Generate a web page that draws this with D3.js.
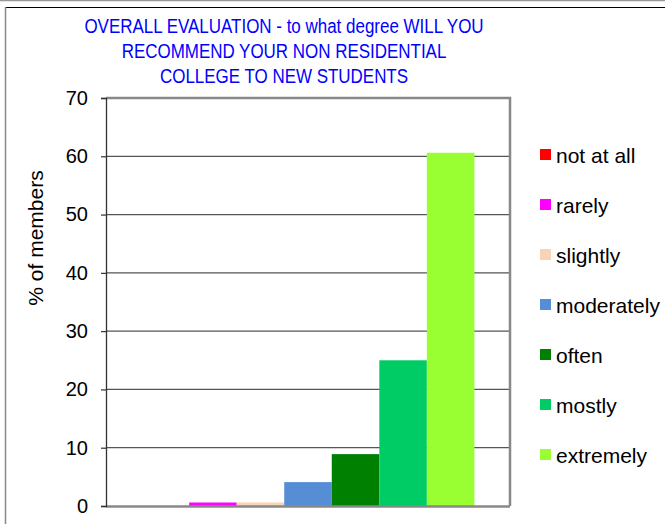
<!DOCTYPE html>
<html>
<head>
<meta charset="utf-8">
<script src="https://cdn.jsdelivr.net/npm/d3@7"></script>
<style>
  body { margin: 0; background: #fff; }
  svg { display: block; font-family: Arial, "Liberation Sans", sans-serif; }
</style>
</head>
<body>
<div id="chart"></div>
<script>
var titleLines = ["OVERALL EVALUATION - to what degree WILL YOU",
                  "RECOMMEND YOUR NON RESIDENTIAL",
                  "COLLEGE TO NEW STUDENTS"];
var categories = ["all"];
var series = ["not at all", "rarely", "slightly", "moderately", "often", "mostly", "extremely"];
var values = [0, 0.6, 0.6, 4.1, 8.9, 25.0, 60.6];
var colors = ["#FF0000", "#FF00FF", "#FAD3B4", "#558ED5", "#008000", "#00CC66", "#99FF33"];
var yTicks = [0, 10, 20, 30, 40, 50, 60, 70];

var W = 665, H = 524;
var margin = {top: 98, right: 155, bottom: 18, left: 106},
    width = W - margin.left - margin.right,
    height = H - margin.top - margin.bottom;

var svg = d3.select("#chart").append("svg")
    .attr("width", W)
    .attr("height", H);

// outer chart frame
svg.append("line").attr("x1", 0).attr("x2", W).attr("y1", 0.5).attr("y2", 0.5)
    .attr("stroke", "#999").attr("stroke-width", 1.5);
svg.append("line").attr("x1", 5).attr("x2", W).attr("y1", 7.5).attr("y2", 7.5)
    .attr("stroke", "#000").attr("stroke-width", 1.2);
svg.append("line").attr("x1", 5.5).attr("x2", 5.5).attr("y1", 7).attr("y2", H)
    .attr("stroke", "#888").attr("stroke-width", 1.5);

// title (condensed, like the original)
var titleX = 284;
svg.append("g")
    .attr("transform", "translate(" + titleX + ",0) scale(0.87,1)")
  .append("text")
    .attr("y", 33)
    .attr("text-anchor", "middle")
    .attr("fill", "#0000FF")
    .style("font-size", "19.5px")
    .selectAll("tspan")
    .data(titleLines)
    .enter().append("tspan")
      .attr("x", 0)
      .attr("dy", function(d, i) { return i === 0 ? 0 : 24.8; })
      .text(function(d) { return d; });

var main = svg.append("g")
    .attr("transform", "translate(" + margin.left + "," + margin.top + ")");

var y = d3.scaleLinear().domain([0, 70]).range([height, 0]);

var x0 = d3.scaleBand().domain(categories).range([0, width])
    .paddingInner(0).paddingOuter(0.107);
var x1 = d3.scaleBand().domain(series).range([0, x0.bandwidth()]);

// gridlines
main.append("g")
    .selectAll("line")
    .data(yTicks.filter(function(d) { return d > 0 && d < 70; }))
    .enter().append("line")
      .attr("x1", 0).attr("x2", width)
      .attr("y1", function(d) { return y(d); })
      .attr("y2", function(d) { return y(d); })
      .attr("stroke", "#555")
      .attr("stroke-width", 1.3);

// plot frame (top and right)
main.append("path")
    .attr("d", "M0," + y(70) + "H" + width + "V" + height)
    .attr("fill", "none")
    .attr("stroke", "#888")
    .attr("stroke-width", 2.5);

// bars
main.append("g")
    .attr("transform", "translate(" + x0("all") + ",0)")
    .selectAll("rect")
    .data(series)
    .enter().append("rect")
      .attr("x", function(d) { return x1(d); })
      .attr("width", x1.bandwidth())
      .attr("y", function(d, i) { return y(values[i]); })
      .attr("height", function(d, i) { return height - y(values[i]); })
      .attr("fill", function(d, i) { return colors[i]; });

// bottom axis line
main.append("line")
    .attr("x1", 0).attr("x2", width)
    .attr("y1", height + 0.5).attr("y2", height + 0.5)
    .attr("stroke", "#888")
    .attr("stroke-width", 2.5);

// y axis
var yAxis = d3.axisLeft(y).tickValues(yTicks).tickSize(5).tickPadding(13);
var ya = main.append("g").call(yAxis);
ya.select(".domain").attr("stroke", "#333").attr("stroke-width", 1.3);
ya.selectAll(".tick line").attr("stroke", "#333").attr("stroke-width", 1.2);
ya.selectAll("text")
    .style("font-size", "20px")
    .style("font-family", "Arial, 'Liberation Sans', sans-serif")
    .attr("fill", "#000");

// y label
svg.append("text")
    .attr("transform", "translate(43,238) rotate(-90)")
    .attr("text-anchor", "middle")
    .style("font-size", "21px")
    .attr("fill", "#000")
    .text("% of members");

// legend
var legend = svg.append("g")
    .selectAll("g")
    .data(series)
    .enter().append("g")
      .attr("transform", function(d, i) { return "translate(540," + (155 + i * 50) + ")"; });

legend.append("rect")
    .attr("x", 0).attr("y", -6)
    .attr("width", 11).attr("height", 11)
    .attr("fill", function(d, i) { return colors[i]; });

legend.append("text")
    .attr("x", 16).attr("y", 7.5)
    .style("font-size", "21px")
    .attr("fill", "#000")
    .text(function(d) { return d; });
</script>
</body>
</html>
